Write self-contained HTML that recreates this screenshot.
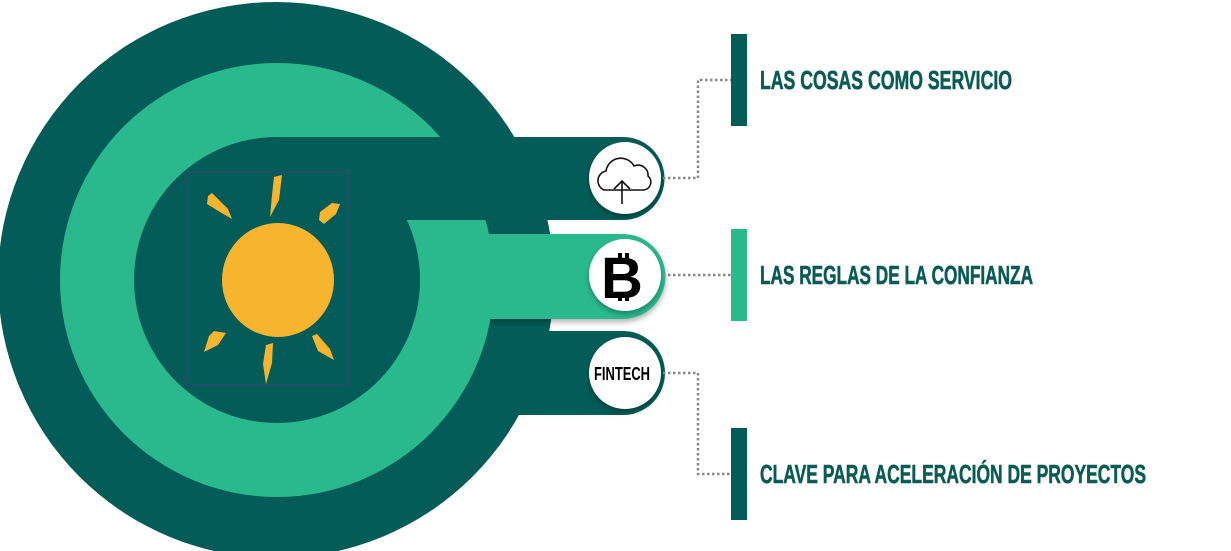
<!DOCTYPE html>
<html><head><meta charset="utf-8"><style>
html,body{margin:0;padding:0;background:#fff;}
svg{display:block;}
</style></head><body>
<svg width="1231" height="551" viewBox="0 0 1231 551" xmlns="http://www.w3.org/2000/svg">
<defs>
<filter id="sh" x="-20%" y="-20%" width="140%" height="160%"><feDropShadow dx="0" dy="3" stdDeviation="3" flood-color="#000" flood-opacity="0.3"/></filter>
</defs>
<circle cx="276" cy="280" r="278" fill="#035c57"/>
<path d="M277 331 H623 A42 42 0 0 1 623 415 H277 Z" fill="#035c57"/>
<path d="M277 234 H623 A42.5 42.5 0 0 1 623 319 H277 Z" fill="#29b98d" filter="url(#sh)"/>
<circle cx="277" cy="280" r="217" fill="#29b98d"/>
<circle cx="277" cy="280" r="143" fill="#035c57"/>
<path d="M277 137 H623 A41.5 41.5 0 0 1 623 220 H277 Z" fill="#035c57"/>
<!-- sun -->
<rect x="187" y="172" width="162" height="213" fill="none" stroke="#3a3f7a" stroke-width="1"/>
<ellipse cx="278" cy="280" rx="56" ry="57" fill="#f7b52f"/>
<g fill="#f7b52f">
<path d="M274 177 l8 -2 l-3 25 l-9 17 l2 -22 z"/>
<path d="M208 196 l4 -3 l16 16 l4 10 l-12 -7 l-13 -8 z"/>
<path d="M320 212 l12 -9 l8 1 l-4 10 l-12 10 l-5 -4 z"/>
<path d="M209 336 l5 -5 l12 2 l-8 12 l-14 7 z"/>
<path d="M266 345 l7 -2 l-1 20 l-6 21 l-3 -20 z"/>
<path d="M312 336 l5 -2 l13 15 l4 11 l-16 -9 z"/>
</g>
<!-- white circles -->
<circle cx="625" cy="178" r="36" fill="#fff" filter="url(#sh)"/>
<circle cx="625" cy="275" r="36" fill="#fff" filter="url(#sh)"/>
<circle cx="625" cy="373" r="36" fill="#fff" filter="url(#sh)"/>
<!-- cloud -->
<path d="M604 190 a10 10 0 0 1 2 -19 a15 15 0 0 1 28 -5 a10 10 0 0 1 14 10 a8 8 0 0 1 -4 14 z" fill="none" stroke="#111" stroke-width="1.6"/>
<path d="M622 204 V182 M614 189 L622 181 L630 189" fill="none" stroke="#111" stroke-width="1.6"/>
<!-- bitcoin -->
<text x="622" y="298" font-family="Liberation Sans, sans-serif" font-weight="bold" font-size="58" text-anchor="middle" fill="#000">B</text>
<rect x="618" y="253" width="4" height="8" fill="#000"/><rect x="625" y="253" width="4" height="8" fill="#000"/>
<rect x="618" y="293" width="4" height="8" fill="#000"/><rect x="625" y="293" width="4" height="8" fill="#000"/>
<text x="622" y="380" font-family="Liberation Sans Narrow, Liberation Sans, sans-serif" font-weight="bold" font-size="18" text-anchor="middle" textLength="56" lengthAdjust="spacingAndGlyphs" fill="#000">FINTECH</text>
<!-- connectors -->
<g fill="none" stroke="#888" stroke-width="2.5" stroke-dasharray="2.5 2.5">
<path d="M663 178 H698 V80 H731"/>
<path d="M663 275 H731"/>
<path d="M663 373 H698 V474 H731"/>
</g>
<rect x="731" y="34" width="16" height="92" fill="#035c57"/>
<rect x="731" y="229" width="16" height="92" fill="#29b98d"/>
<rect x="731" y="428" width="16" height="92" fill="#035c57"/>
<g font-family="Liberation Sans Narrow, Liberation Sans, sans-serif" font-weight="bold" font-size="26" fill="#0b5b55" stroke="#0b5b55" stroke-width="0.6">
<text x="760" y="89" textLength="252" lengthAdjust="spacingAndGlyphs">LAS COSAS COMO SERVICIO</text>
<text x="760" y="284" textLength="273" lengthAdjust="spacingAndGlyphs">LAS REGLAS DE LA CONFIANZA</text>
<text x="760" y="483" textLength="386" lengthAdjust="spacingAndGlyphs">CLAVE PARA ACELERACIÓN DE PROYECTOS</text>
</g>
</svg>
</body></html>
